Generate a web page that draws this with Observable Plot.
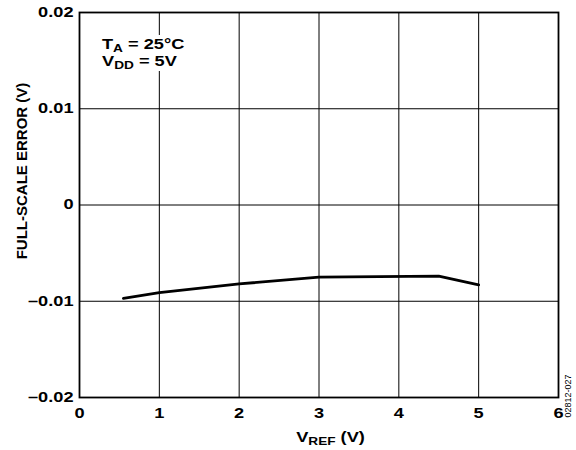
<!DOCTYPE html>
<html><head><meta charset="utf-8">
<script src="https://cdn.jsdelivr.net/npm/d3@7"></script>
<script src="https://cdn.jsdelivr.net/npm/@observablehq/plot@0.6"></script>
<style>
body{margin:0;background:#fff;}
svg{font-family:"Liberation Sans",Arial,sans-serif;}
</style></head>
<body><div id="chart"></div>
<script>
const vref = [0.55, 1, 2, 3, 4.5, 5];
const fsError = [-0.0097, -0.0091, -0.0082, -0.0075, -0.0074, -0.0083];
const xTicks = [0, 1, 2, 3, 4, 5, 6];
const yTicks = [-0.02, -0.01, 0, 0.01, 0.02];
const data = vref.map((v, i) => ({x: v, y: fsError[i]}));
const fmtY = d => d === 0 ? "0" : (d < 0 ? "\u2013" : "") + Math.abs(d).toFixed(2);
const SX = 1.3;

const plot = Plot.plot({
  width: 576, height: 450,
  marginLeft: 79, marginRight: 18, marginTop: 12, marginBottom: 53,
  style: {fontFamily: "Liberation Sans, Arial, sans-serif", fontWeight: "bold", fontSize: "13px", color: "#000", background: "#fff"},
  x: {domain: [0, 6], ticks: xTicks, label: null},
  y: {domain: [-0.02, 0.02], ticks: yTicks, label: null},
  marks: [
    Plot.ruleX(xTicks.slice(1, -1), {stroke: "#000", strokeWidth: 1}),
    Plot.ruleY(yTicks.slice(1, -1), {stroke: "#000", strokeWidth: 1}),
    Plot.line(data, {x: "x", y: "y", stroke: "#000", strokeWidth: 2.8}),
    Plot.frame({stroke: "#000", strokeWidth: 1.8}),
    Plot.axisX({ticks: xTicks, tickSize: 0, tickPadding: 11, tickFormat: d => String(d), fontSize: 14, fontWeight: "bold", label: null}),
    Plot.axisY({ticks: yTicks, tickSize: 0, tickPadding: 6, tickFormat: fmtY, fontSize: 14, fontWeight: "bold", label: null})
  ]
});
document.getElementById("chart").appendChild(plot);

const svg = d3.select(plot);
// widen tick labels horizontally to match the reference lettering
svg.selectAll("g[aria-label$='tick label'] text").each(function() {
  const t = this.getAttribute("transform") || "";
  this.setAttribute("transform", t + ` scale(${SX},1)`);
  this.setAttribute("font-size", 14);
});
const xs = plot.scale("x"), ys = plot.scale("y");
const font = "Liberation Sans, Arial, sans-serif";
function label(x, y, parts, size, anchor) {
  const t = svg.append("text").attr("transform", `translate(${x},${y}) scale(${SX},1)`)
    .attr("text-anchor", anchor).attr("font-family", font).attr("font-weight", "bold").attr("font-size", size);
  parts.forEach(([s, sub], i) => {
    const sp = t.append("tspan").text(s);
    if (sub) sp.attr("font-size", size * 0.75).attr("dy", 3);
    else if (i > 0 && parts[i - 1][1]) sp.attr("dy", -3);
  });
  return t;
}
// x-axis title
label((xs.apply(0) + xs.apply(6)) / 2 + 12, 442, [["V"], ["REF", true], [" (V)"]], 14, "middle");
// y-axis title
svg.append("text").attr("transform", `translate(27,171) rotate(-90)`)
  .attr("text-anchor", "middle").attr("font-family", font).attr("font-weight", "bold").attr("font-size", 15)
  .text("FULL-SCALE ERROR (V)");
// annotation box (hides grid behind it)
const a1 = label(102, 49, [["T"], ["A", true], [" = 25°C"]], 14, "start");
const a2 = label(102, 66, [["V"], ["DD", true], [" = 5V"]], 14, "start");
const b = a1.node().getBBox();
const w = b.width * SX;
svg.insert("rect", () => a1.node()).attr("x", 100).attr("y", 35).attr("width", w + 4).attr("height", 36).attr("fill", "#fff");
// figure code
svg.append("text").attr("transform", `translate(571,396) rotate(-90)`).attr("font-family", font)
  .attr("font-weight", "normal").attr("font-size", 9).text("02812-027");
</script></body></html>
